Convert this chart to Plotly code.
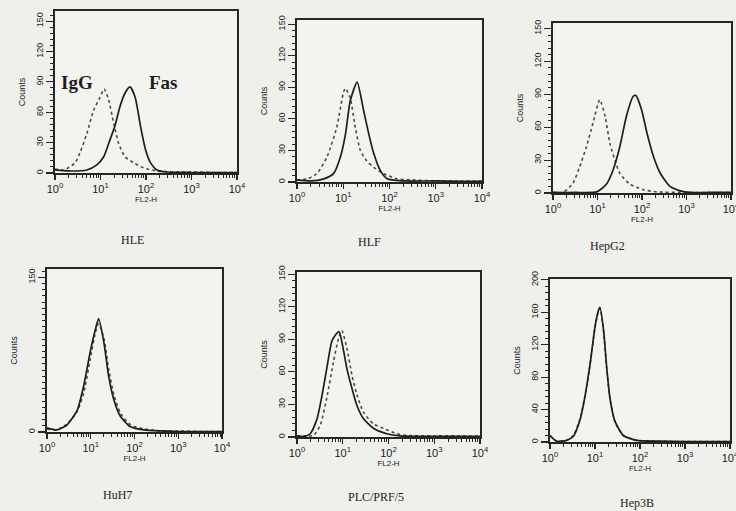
import plotly.graph_objects as go

# ---------------- data (log10 FL2-H positions and counts) ----------------
cell_lines = ["HLE", "HLF", "HepG2", "HuH7", "PLC/PRF/5", "Hep3B"]

hle_igg_log = [0.0, 0.2, 0.44, 0.55, 0.70, 0.85, 0.99, 1.08, 1.18, 1.29, 1.40, 1.54, 1.73, 1.95, 2.24, 2.6, 3.0, 3.5, 4.0]
hle_igg_cnt = [4, 3, 10, 20, 39, 62, 75, 83, 72, 49, 29, 16, 10, 5, 2, 1, 1, 0.5, 0.5]
hle_fas_log = [0.0, 0.3, 0.70, 0.92, 1.07, 1.21, 1.32, 1.43, 1.54, 1.65, 1.76, 1.88, 1.99, 2.10, 2.24, 2.46, 3.0, 3.5, 4.0]
hle_fas_cnt = [3, 2, 3, 8, 16, 33, 47, 66, 79, 85, 75, 46, 23, 10, 3, 1, 0.5, 0.5, 0.5]

hlf_igg_log = [0.0, 0.22, 0.43, 0.65, 0.86, 1.01, 1.05, 1.15, 1.26, 1.37, 1.51, 1.66, 1.87, 2.16, 2.5, 3.0, 3.5, 4.0]
hlf_igg_cnt = [2, 3, 8, 24, 52, 86, 89, 80, 52, 30, 20, 14, 8, 3, 2, 1, 1, 1]
hlf_fas_log = [0.0, 0.3, 0.58, 0.79, 0.94, 1.05, 1.15, 1.30, 1.44, 1.55, 1.66, 1.80, 1.95, 2.3, 3.0, 3.5, 4.0]
hlf_fas_cnt = [2, 1, 3, 8, 24, 46, 77, 95, 68, 46, 27, 11, 3, 1, 1, 0.5, 0.5]

hepg2_igg_log = [0.0, 0.23, 0.45, 0.60, 0.75, 0.90, 1.05, 1.17, 1.28, 1.39, 1.50, 1.73, 2.03, 2.33, 3.0, 3.5, 4.0]
hepg2_igg_cnt = [0.5, 0.6, 9, 24, 42, 64, 85, 70, 45, 30, 18, 8, 3, 1, 0.5, 0.5, 0.5]
hepg2_fas_log = [0.0, 0.5, 0.98, 1.20, 1.35, 1.50, 1.65, 1.80, 1.86, 1.99, 2.11, 2.26, 2.41, 2.63, 2.86, 3.08, 3.5, 4.0]
hepg2_fas_cnt = [0.5, 0.5, 1, 8, 21, 42, 70, 88, 89, 76, 55, 33, 18, 6, 2, 0.5, 0.5, 0.5]

huh7_igg_log = [0.0, 0.23, 0.46, 0.69, 0.84, 0.99, 1.11, 1.18, 1.30, 1.41, 1.53, 1.68, 1.91, 2.21, 2.6, 3.0, 3.5, 4.0]
huh7_igg_cnt = [3, 2, 8, 20, 38, 71, 97, 105, 91, 61, 36, 18, 7, 3, 1, 1, 0.5, 0.5]
huh7_fas_log = [0.0, 0.23, 0.46, 0.69, 0.84, 0.99, 1.11, 1.18, 1.30, 1.41, 1.53, 1.68, 1.91, 2.21, 2.6, 3.0, 3.5, 4.0]
huh7_fas_cnt = [4, 2, 7, 21, 45, 78, 100, 110, 87, 54, 31, 15, 5, 2, 1, 0.5, 0.5, 0.5]

plc_igg_log = [0.0, 0.36, 0.51, 0.65, 0.80, 0.91, 0.98, 1.09, 1.20, 1.31, 1.45, 1.67, 1.89, 2.18, 2.40, 3.0, 3.5, 4.0]
plc_igg_cnt = [1, 1.5, 11, 36, 70, 91, 98, 82, 57, 39, 23, 12, 8, 3, 1.5, 1, 1, 0.5]
plc_fas_log = [0.0, 0.15, 0.29, 0.44, 0.55, 0.65, 0.76, 0.84, 0.92, 1.02, 1.09, 1.20, 1.31, 1.45, 1.67, 1.96, 2.25, 3.0, 4.0]
plc_fas_cnt = [1, 0.5, 3, 17, 39, 63, 88, 94, 97, 79, 63, 45, 29, 17, 8, 3, 1, 0.5, 0.5]

hep3b_igg_log = [0.0, 0.15, 0.37, 0.52, 0.67, 0.78, 0.89, 1.00, 1.07, 1.11, 1.19, 1.26, 1.33, 1.44, 1.63, 1.93, 2.4, 3.0, 4.0]
hep3b_igg_cnt = [8, 1, 2, 8, 29, 58, 95, 141, 160, 165, 137, 91, 54, 25, 8, 2, 1, 0.5, 0.5]
hep3b_fas_log = [0.0, 0.15, 0.37, 0.52, 0.67, 0.78, 0.89, 1.00, 1.07, 1.11, 1.19, 1.26, 1.33, 1.44, 1.63, 1.93, 2.4, 3.0, 4.0]
hep3b_fas_cnt = [8, 1, 2, 7, 28, 57, 96, 142, 161, 166, 138, 92, 55, 26, 8, 2, 1, 0.5, 0.5]

x_tick_vals = [1, 10, 100, 1000, 10000]
x_tick_text = ["10<sup>0</sup>", "10<sup>1</sup>", "10<sup>2</sup>", "10<sup>3</sup>", "10<sup>4</sup>"]
y_ticks_150 = [0, 30, 60, 90, 120, 150]
y_ticks_huh7 = [0, 150]
y_ticks_200 = [0, 40, 80, 120, 160, 200]

panels = [
    (hle_igg_log, hle_igg_cnt, hle_fas_log, hle_fas_cnt, y_ticks_150, 160),
    (hlf_igg_log, hlf_igg_cnt, hlf_fas_log, hlf_fas_cnt, y_ticks_150, 154),
    (hepg2_igg_log, hepg2_igg_cnt, hepg2_fas_log, hepg2_fas_cnt, y_ticks_150, 155),
    (huh7_igg_log, huh7_igg_cnt, huh7_fas_log, huh7_fas_cnt, y_ticks_huh7, 158),
    (plc_igg_log, plc_igg_cnt, plc_fas_log, plc_fas_cnt, y_ticks_150, 152),
    (hep3b_igg_log, hep3b_igg_cnt, hep3b_fas_log, hep3b_fas_cnt, y_ticks_200, 201),
]

# ---------------- layout geometry (pixels in a 736x511 page) ----------------
W, H = 736, 511
boxes = [  # left, right, top, bottom
    (55, 237, 11, 173),
    (297, 482, 20, 182),
    (553, 731, 23, 193),
    (47, 222, 269, 432),
    (297, 480, 272, 437),
    (550, 730, 279, 442),
]
label_pos = [(132, 240), (370, 242), (607, 246), (117, 495), (376, 497), (637, 503)]

BG = "#efefec"
INK = "#262626"
TXT = "#222222"
fig = go.Figure()
layout = dict(
    width=W, height=H, margin=dict(l=0, r=0, t=0, b=0, autoexpand=False),
    paper_bgcolor=BG, plot_bgcolor="#f3f3f0", showlegend=False,
    font=dict(family="Liberation Sans, Arial, sans-serif", color=TXT),
)
annotations = []

for i, ((gl, gc, fl, fc, yt, ymax), (l, r, t, b)) in enumerate(zip(panels, boxes)):
    n = "" if i == 0 else str(i + 1)
    xa, ya = "x" + n, "y" + n
    fig.add_trace(go.Scatter(
        x=[10 ** v for v in gl], y=gc, xaxis=xa, yaxis=ya, mode="lines",
        line=dict(color="#4a4a4a", width=1.6, dash="dot", shape="spline", smoothing=0.6),
        name="IgG", hoverinfo="skip"))
    fig.add_trace(go.Scatter(
        x=[10 ** v for v in fl], y=fc, xaxis=xa, yaxis=ya, mode="lines",
        line=dict(color="#1e1e1e", width=1.7, shape="spline", smoothing=0.6),
        name="Fas", hoverinfo="skip"))
    layout["xaxis" + n] = dict(
        domain=[l / W, r / W], anchor=ya, type="log", range=[0, 4], automargin=False,
        tickvals=x_tick_vals, ticktext=x_tick_text, ticks="outside", ticklen=5,
        tickwidth=1.2, tickcolor=INK, tickfont=dict(size=11, color=TXT),
        ticklabeloverflow="allow",
        minor=dict(ticks="outside", ticklen=3, tickwidth=1, tickcolor=INK, dtick="D1"),
        showline=True, linecolor=INK, linewidth=1.6, mirror=True,
        showgrid=False, zeroline=False,
        title=dict(text="FL2-H", font=dict(size=8, color=TXT), standoff=2),
    )
    layout["yaxis" + n] = dict(
        domain=[1 - b / H, 1 - t / H], anchor=xa, range=[0, ymax], automargin=False,
        tickvals=yt, ticks="outside", ticklen=7, tickwidth=1.2, tickcolor=INK,
        tickangle=-90, tickfont=dict(size=9, color=TXT), ticklabeloverflow="allow",
        minor=dict(ticks="outside", ticklen=3, tickwidth=1, tickcolor=INK,
                   dtick=8 if ymax > 180 else 6),
        showline=True, linecolor=INK, linewidth=1.6, mirror=True,
        showgrid=False, zeroline=False,
        title=dict(text="Counts", font=dict(size=9, color=TXT), standoff=7),
    )
    lx, ly = label_pos[i]
    annotations.append(dict(
        text=cell_lines[i], x=lx / W, y=1 - ly / H, xref="paper", yref="paper",
        xanchor="center", yanchor="middle", showarrow=False,
        font=dict(family="Liberation Serif, Times New Roman, serif", size=12, color=TXT),
    ))

for txt, px in (("IgG", 77), ("Fas", 163)):
    annotations.append(dict(text="<b>" + txt + "</b>", x=px / W, y=1 - 82 / H, xref="paper", yref="paper",
                            xanchor="center", yanchor="middle", showarrow=False,
                            font=dict(family="Liberation Serif, serif", size=19, color="#1e1e1e")))
layout["annotations"] = annotations
fig.update_layout(**layout)
fig.write_html("out.html", config={"displayModeBar": False, "staticPlot": True},
               post_script="document.body.style.margin='0';document.body.style.overflow='hidden';")
